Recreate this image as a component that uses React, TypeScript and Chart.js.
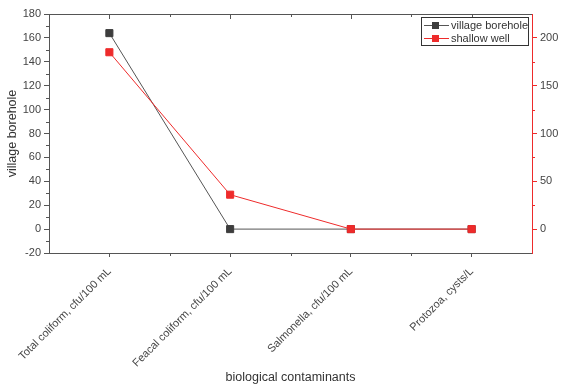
import { useEffect, useRef } from 'react';
import { Chart, registerables } from 'chart.js';

Chart.register(...registerables);

const categories = [
  'Total coliform, cfu/100 mL',
  'Feacal coliform, cfu/100 mL',
  'Salmonella, cfu/100 mL',
  'Protozoa, cysts/L',
];
const villageBorehole = [164, 0, 0, 0];
const shallowWell = [185, 36, 0, 0];
const leftMajorTicks = [-20, 0, 20, 40, 60, 80, 100, 120, 140, 160, 180];
const leftMinorTicks = [-10, 10, 30, 50, 70, 90, 110, 130, 150, 170];
const rightMajorTicks = [0, 50, 100, 150, 200];
const rightMinorTicks = [25, 75, 125, 175];

const GRAY = '#555555';
const BLACK_S = '#3d3d3d';
const RED = '#ee2b2b';
const FONT = 'Liberation Sans, Arial, sans-serif';

const framePlugin = {
  id: 'frameTicks',
  afterDraw(chart: any) {
    const { ctx, chartArea: a, scales } = chart;
    const xs = scales.x;
    const yl = scales.y;
    const yr = scales.y1;
    ctx.save();
    ctx.lineWidth = 1;
    ctx.strokeStyle = GRAY;
    ctx.beginPath();
    ctx.moveTo(a.left, Math.round(a.top) + 0.5);
    ctx.lineTo(a.right, Math.round(a.top) + 0.5);
    ctx.stroke();
    const px: number[] = categories.map((_, i) => xs.getPixelForValue(i));
    const mids: number[] = [];
    for (let i = 0; i < px.length - 1; i++) mids.push((px[i] + px[i + 1]) / 2);
    ctx.beginPath();
    px.forEach((p) => {
      const x = Math.round(p) + 0.5;
      ctx.moveTo(x, a.top);
      ctx.lineTo(x, a.top + 5);
    });
    mids.forEach((p) => {
      const x = Math.round(p) + 0.5;
      ctx.moveTo(x, a.top);
      ctx.lineTo(x, a.top + 3);
    });
    mids.forEach((p) => {
      const x = Math.round(p) + 0.5;
      ctx.moveTo(x, a.bottom);
      ctx.lineTo(x, a.bottom + 3);
    });
    leftMinorTicks.forEach((v) => {
      const y = Math.round(yl.getPixelForValue(v)) + 0.5;
      ctx.moveTo(a.left, y);
      ctx.lineTo(a.left - 3, y);
    });
    ctx.stroke();
    ctx.strokeStyle = RED;
    ctx.beginPath();
    rightMinorTicks.forEach((v) => {
      const y = Math.round(yr.getPixelForValue(v)) + 0.5;
      ctx.moveTo(a.right, y);
      ctx.lineTo(a.right + 3, y);
    });
    ctx.stroke();

    // legend
    const bx = 421.5, by = 17.5, bw = 107, bh = 28;
    ctx.fillStyle = '#ffffff';
    ctx.fillRect(bx, by, bw, bh);
    ctx.strokeStyle = '#333333';
    ctx.strokeRect(bx, by, bw, bh);
    const items = [
      { label: 'village borehole', color: BLACK_S, line: GRAY, y: 25 },
      { label: 'shallow well', color: RED, line: RED, y: 38 },
    ];
    ctx.font = `11px ${FONT}`;
    ctx.textBaseline = 'middle';
    items.forEach((it) => {
      ctx.strokeStyle = it.line;
      ctx.beginPath();
      ctx.moveTo(424, it.y + 0.5);
      ctx.lineTo(449, it.y + 0.5);
      ctx.stroke();
      ctx.fillStyle = it.color;
      ctx.fillRect(432, it.y - 3, 7, 7);
      ctx.fillStyle = '#333333';
      ctx.fillText(it.label, 451, it.y + 1);
    });
    ctx.restore();
  },
};

export default function App() {
  const ref = useRef<HTMLCanvasElement | null>(null);
  useEffect(() => {
    document.body.style.margin = '0';
    const canvas = ref.current;
    if (!canvas) return;
    const chart = new Chart(canvas, {
      type: 'line',
      data: {
        labels: categories,
        datasets: [
          {
            label: 'village borehole',
            data: villageBorehole,
            yAxisID: 'y',
            borderColor: GRAY,
            backgroundColor: BLACK_S,
            pointBackgroundColor: BLACK_S,
            pointBorderColor: BLACK_S,
            pointStyle: 'rect',
            pointRadius: 5,
            borderWidth: 1,
            order: 2,
          },
          {
            label: 'shallow well',
            data: shallowWell,
            yAxisID: 'y1',
            borderColor: RED,
            backgroundColor: RED,
            pointBackgroundColor: RED,
            pointBorderColor: RED,
            pointStyle: 'rect',
            pointRadius: 5,
            borderWidth: 1,
            order: 1,
          },
        ],
      },
      options: {
        responsive: false,
        animation: false,
        layout: { padding: { top: 14, left: 0, right: 0, bottom: 0 } },
        plugins: {
          legend: { display: false },
          tooltip: { enabled: false },
        },
        scales: {
          x: {
            type: 'category',
            offset: true,
            grid: {
              drawOnChartArea: false,
              drawTicks: true,
              tickLength: 4,
              color: GRAY,
              offset: false,
            },
            border: { color: GRAY, width: 1 },
            ticks: {
              minRotation: 45,
              maxRotation: 45,
              autoSkip: false,
              color: '#444444',
              font: { family: FONT, size: 11 },
              padding: 8,
            },
            title: {
              display: true,
              text: 'biological contaminants',
              color: '#333333',
              font: { family: FONT, size: 12.5 },
              padding: { top: 4, bottom: 3 },
            },
            afterFit: (s: any) => {
              s.height = 135;
            },
          },
          y: {
            type: 'linear',
            position: 'left',
            min: -20,
            max: 180,
            grid: {
              drawOnChartArea: false,
              drawTicks: true,
              tickLength: 5,
              color: GRAY,
            },
            border: { color: GRAY, width: 1 },
            ticks: {
              stepSize: 20,
              color: '#444444',
              font: { family: FONT, size: 11 },
              padding: 3,
            },
            afterBuildTicks: (s: any) => {
              s.ticks = leftMajorTicks.map((v) => ({ value: v }));
            },
            title: {
              display: true,
              text: 'village borehole',
              color: '#333333',
              font: { family: FONT, size: 12.5 },
              padding: { top: 5, bottom: 4 },
            },
            afterFit: (s: any) => {
              s.width = 49;
            },
          },
          y1: {
            type: 'linear',
            position: 'right',
            min: -25,
            max: 225,
            grid: {
              drawOnChartArea: false,
              drawTicks: true,
              tickLength: 5,
              color: RED,
            },
            border: { color: RED, width: 1 },
            ticks: {
              stepSize: 50,
              color: '#444444',
              font: { family: FONT, size: 11 },
              padding: 3,
            },
            afterBuildTicks: (s: any) => {
              s.ticks = rightMajorTicks.map((v) => ({ value: v }));
            },
            afterFit: (s: any) => {
              s.width = 29;
            },
          },
        },
      },
      plugins: [framePlugin],
    });
    return () => chart.destroy();
  }, []);
  return (
    <div style={{ width: 561, height: 388, background: '#ffffff' }}>
      <canvas ref={ref} width={561} height={388} style={{ display: 'block' }} />
    </div>
  );
}
